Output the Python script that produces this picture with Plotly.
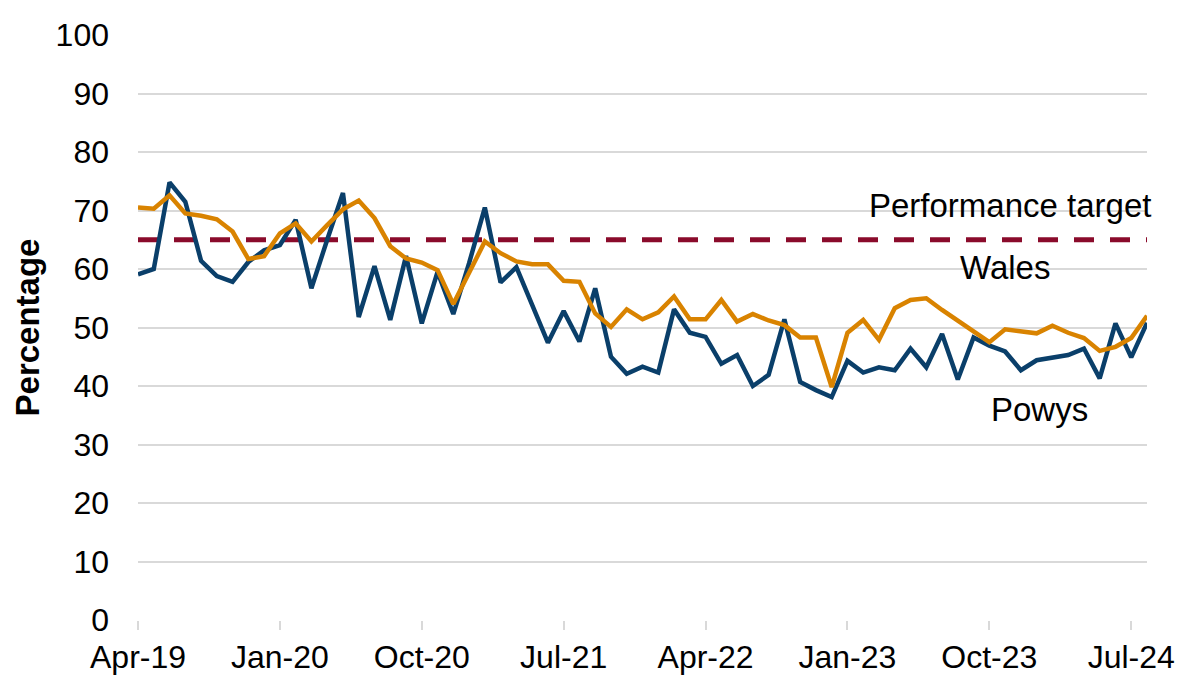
import plotly.graph_objects as go

# Monthly series, Apr-19 to Aug-24
months = ["Apr-19", "May-19", "Jun-19", "Jul-19", "Aug-19", "Sep-19", "Oct-19", "Nov-19", "Dec-19",
          "Jan-20", "Feb-20", "Mar-20", "Apr-20", "May-20", "Jun-20", "Jul-20", "Aug-20", "Sep-20",
          "Oct-20", "Nov-20", "Dec-20", "Jan-21", "Feb-21", "Mar-21", "Apr-21", "May-21", "Jun-21",
          "Jul-21", "Aug-21", "Sep-21", "Oct-21", "Nov-21", "Dec-21", "Jan-22", "Feb-22", "Mar-22",
          "Apr-22", "May-22", "Jun-22", "Jul-22", "Aug-22", "Sep-22", "Oct-22", "Nov-22", "Dec-22",
          "Jan-23", "Feb-23", "Mar-23", "Apr-23", "May-23", "Jun-23", "Jul-23", "Aug-23", "Sep-23",
          "Oct-23", "Nov-23", "Dec-23", "Jan-24", "Feb-24", "Mar-24", "Apr-24", "May-24", "Jun-24",
          "Jul-24", "Aug-24"]

powys = [59.1, 60.0, 74.8, 71.5, 61.4, 58.8, 57.8, 61.2, 63.2, 64.1, 68.4, 56.7, 65.0, 73.0,
         51.8, 60.5, 51.3, 62.2, 50.7, 59.5, 52.3, 61.0, 70.5, 57.7, 60.3, 53.8, 47.4, 52.8,
         47.6, 56.7, 45.0, 42.1, 43.3, 42.3, 53.1, 49.1, 48.4, 43.8, 45.3, 40.0, 41.9, 51.4,
         40.7, 39.3, 38.1, 44.3, 42.3, 43.2, 42.7, 46.4, 43.2, 48.9, 41.1, 48.3, 46.9, 45.9,
         42.7, 44.4, 44.9, 45.3, 46.4, 41.3, 50.7, 44.9, 50.8]

wales = [70.5, 70.3, 72.6, 69.5, 69.1, 68.5, 66.4, 61.7, 62.2, 66.1, 67.8, 64.7, 67.5, 70.2,
         71.7, 68.7, 63.9, 61.8, 61.1, 59.8, 54.0, 59.4, 64.7, 62.7, 61.3, 60.8, 60.8, 58.0,
         57.8, 52.4, 50.1, 53.1, 51.4, 52.6, 55.3, 51.4, 51.4, 54.7, 51.0, 52.3, 51.2, 50.4,
         48.3, 48.3, 39.8, 49.1, 51.3, 47.9, 53.3, 54.7, 55.0, 53.0, 51.1, 49.2, 47.5, 49.7,
         49.3, 49.0, 50.3, 49.1, 48.2, 46.0, 46.7, 48.2, 52.0]

target = 65

tick_labels = ["Apr-19", "Jan-20", "Oct-20", "Jul-21", "Apr-22", "Jan-23", "Oct-23", "Jul-24"]
tick_idx = [months.index(t) for t in tick_labels]
idx = list(range(len(months)))

FONT = "Liberation Sans, Arial, sans-serif"
fig = go.Figure()

fig.add_trace(go.Scatter(x=[idx[0], idx[-1]], y=[target, target], mode="lines",
                         line=dict(color="#8A0B2B", width=5, dash="20px,16px"),
                         name="Performance target", hoverinfo="skip"))
fig.add_trace(go.Scatter(x=idx, y=powys, mode="lines", name="Powys",
                         line=dict(color="#0A3F6A", width=4.5), text=months))
fig.add_trace(go.Scatter(x=idx, y=wales, mode="lines", name="Wales",
                         line=dict(color="#D98300", width=4.5), text=months))

annots = [
    ("Performance target", 55.3, 70.8),
    ("Wales", 55.0, 60.2),
    ("Powys", 57.2, 35.9),
]
for txt, ax, ay in annots:
    fig.add_annotation(x=ax, y=ay, xref="x", yref="y", text=txt, showarrow=False,
                       font=dict(family=FONT, size=33, color="#000000"))

fig.update_layout(
    width=1181, height=675,
    margin=dict(l=138, r=34, t=35, b=55),
    plot_bgcolor="white", paper_bgcolor="white",
    showlegend=False,
    font=dict(family=FONT, size=33, color="#000000"),
)
fig.update_xaxes(
    range=[0, 64], tickmode="array", tickvals=tick_idx, ticktext=tick_labels,
    showgrid=False, zeroline=False, showline=False, automargin=False,
    ticks="outside", ticklen=9, tickcolor="#d9d9d9", tickwidth=2,
    tickfont=dict(family=FONT, size=32),
)
fig.update_yaxes(
    range=[0, 100], dtick=10, showgrid=True, gridcolor="#d9d9d9", gridwidth=2,
    zeroline=False, showline=False, ticks="", ticklabelstandoff=28, automargin=False,
    tickfont=dict(family=FONT, size=32),
    title=dict(text="<b>Percentage</b>", font=dict(family=FONT, size=33), standoff=6),
)

fig.write_html("out.html")
